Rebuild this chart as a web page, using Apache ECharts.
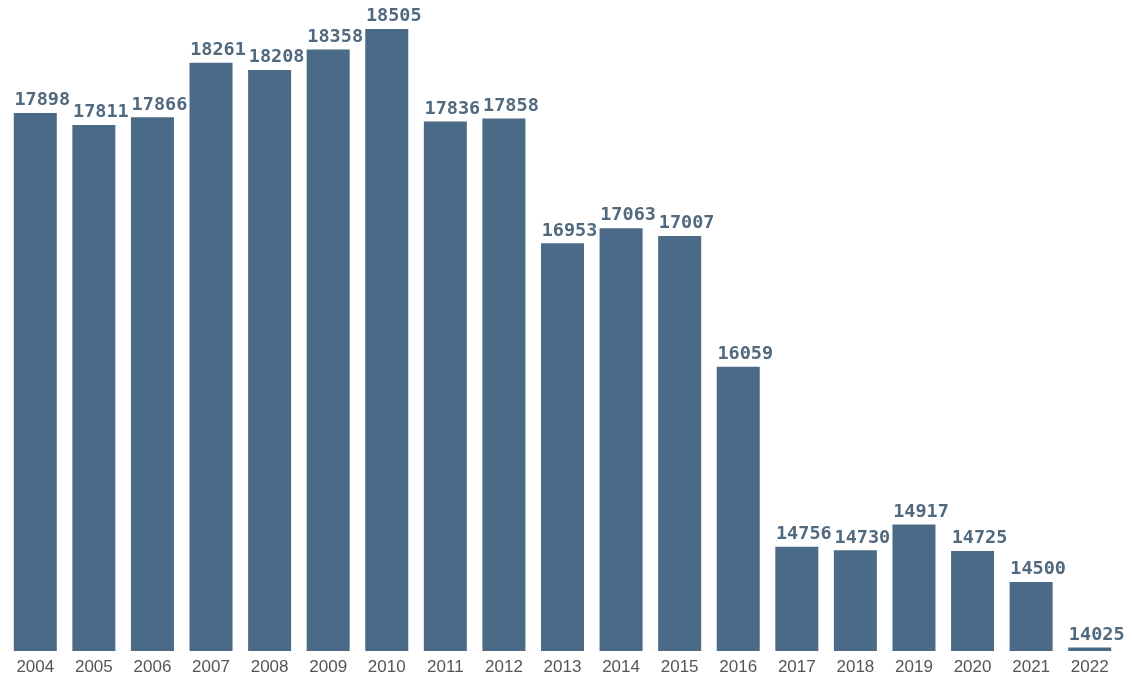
<!DOCTYPE html>
<html><head><meta charset="utf-8">
<script src="https://cdn.jsdelivr.net/npm/echarts@6/dist/echarts.min.js"></script>
<style>html,body{margin:0;padding:0;background:#fff}#c{width:1132px;height:679px}</style>
</head><body><div id="c"></div>
<script>
const years = ['2004','2005','2006','2007','2008','2009','2010','2011','2012','2013','2014','2015','2016','2017','2018','2019','2020','2021','2022'];
const values = [17898,17811,17866,18261,18208,18358,18505,17836,17858,16953,17063,17007,16059,14756,14730,14917,14725,14500,14025];
const chart = echarts.init(document.getElementById('c'));
chart.setOption({
  animation: false,
  grid: {left: 6, right: 13, top: 16, bottom: 28, containLabel: false},
  xAxis: {
    type: 'category', data: years,
    axisLine: {show: false}, axisTick: {show: false},
    axisLabel: {color: '#555', fontFamily: 'Liberation Sans', fontSize: 17, margin: 8}
  },
  yAxis: {type: 'value', min: 14000, max: 18600, show: false, splitLine: {show: false}},
  series: [{
    type: 'bar', data: values, barWidth: 43,
    itemStyle: {color: '#4a6a87'},
    label: {show: true, position: 'top', distance: 3, offset: [7, 0], color: '#50697f',
      fontFamily: 'DejaVu Sans Mono', fontWeight: 'bold', fontSize: 18.5}
  }]
});
</script></body></html>
